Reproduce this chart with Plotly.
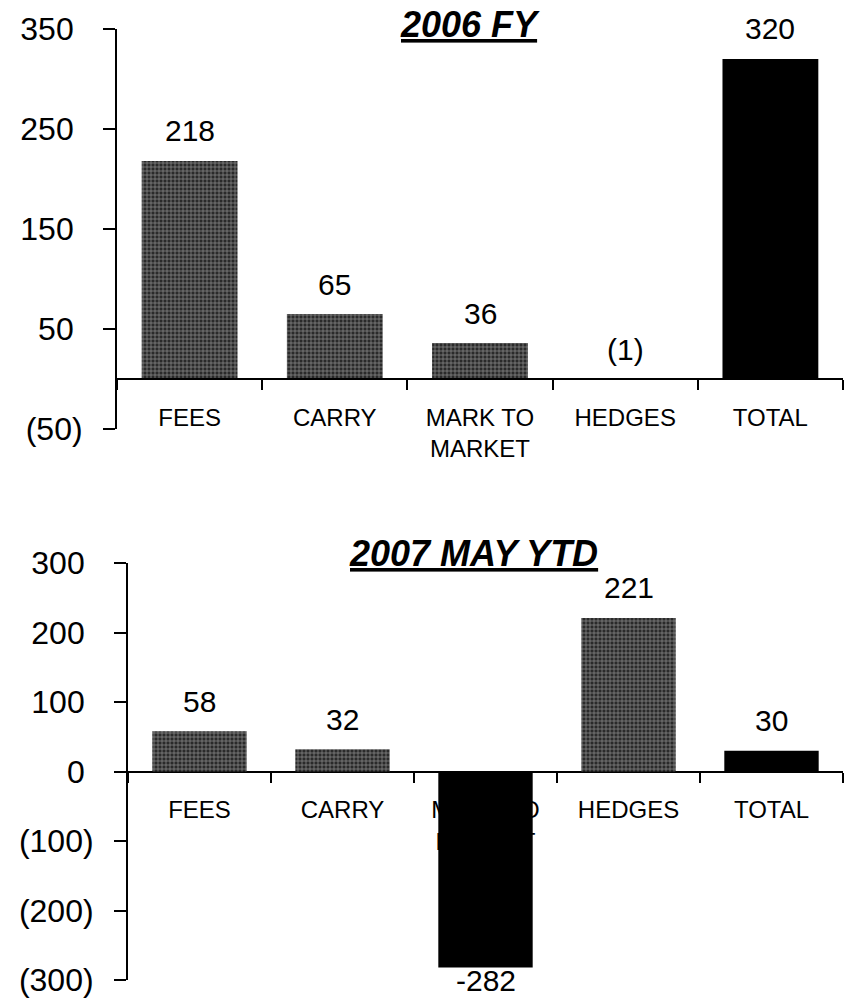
import plotly.graph_objects as go

# ---------------- data ----------------
categories = ["FEES", "CARRY", "MARK TO<br>MARKET", "HEDGES", "TOTAL"]

fy2006_values = [218, 65, 36, -1, 320]
fy2006_labels = ["218", "65", "36", "(1)", "320"]

ytd2007_values = [58, 32, -282, 221, 30]
ytd2007_labels = ["58", "32", "-282", "221", "30"]

top_tickvals = [350, 250, 150, 50, -50]
top_ticktext = ["350", "250", "150", "50", "(50)"]
bot_tickvals = [300, 200, 100, 0, -100, -200, -300]
bot_ticktext = ["300", "200", "100", "0", "(100)", "(200)", "(300)"]

top_title = "2006 FY"
bot_title = "2007 MAY YTD"

# ---------------- styles ----------------
GRAY = "#2a2a2a"
BLACK = "#000000"
top_colors = [GRAY, GRAY, GRAY, GRAY, BLACK]
bot_colors = [GRAY, GRAY, BLACK, GRAY, BLACK]
FONT = "Arial, Liberation Sans, sans-serif"

W, H = 851, 998
top_dom_y = [1 - 429 / H, 1 - 29 / H]
bot_dom_y = [1 - 980 / H, 1 - 563 / H]
top_dom_x = [117 / W, 843 / W]
bot_dom_x = [128 / W, 843 / W]
top_range = [-50, 350]
bot_range = [-300, 300]


def zero_pos(dom, rng):
    return dom[0] + (0 - rng[0]) / (rng[1] - rng[0]) * (dom[1] - dom[0])


def fmt(t):
    return t if t.startswith("(") else t + "\u00a0"


def bar(values, colors, xa, ya):
    shapes = ["+" if c == GRAY else "" for c in colors]
    return go.Bar(
        x=categories, y=values, xaxis=xa, yaxis=ya,
        marker=dict(color=colors, line=dict(width=0),
                    pattern=dict(shape=shapes, fgcolor="#a0a0a0", size=4, solidity=0.3)),
        showlegend=False, hoverinfo="skip",
    )


fig = go.Figure()
fig.add_trace(bar(fy2006_values, top_colors, "x", "y"))
fig.add_trace(bar(ytd2007_values, bot_colors, "x2", "y2"))

xcommon = dict(type="category", range=[-0.5, 4.5], showline=True, linecolor="black", linewidth=2,
               ticks="outside", tickson="boundaries", ticklen=10, tickwidth=2, tickcolor="black",
               tickfont=dict(family=FONT, size=24, color="black"), showgrid=False, zeroline=False,
               anchor="free", ticklabelstandoff=17, automargin=False)
ycommon = dict(showline=True, linecolor="black", linewidth=2, ticks="outside", ticklen=12,
               tickwidth=2, tickcolor="black", tickfont=dict(family=FONT, size=32, color="black"),
               showgrid=False, zeroline=False, tickmode="array", ticklabelstandoff=14,
               automargin=False, ticklabeloverflow="allow")

fig.update_layout(
    width=W, height=H, margin=dict(l=0, r=0, t=0, b=0, autoexpand=False),
    plot_bgcolor="white", paper_bgcolor="white", bargap=0.34,
    xaxis=dict(xcommon, domain=top_dom_x, position=zero_pos(top_dom_y, top_range)),
    yaxis=dict(ycommon, domain=top_dom_y, range=top_range, anchor="x",
               tickvals=top_tickvals, ticktext=[fmt(t) for t in top_ticktext]),
    xaxis2=dict(xcommon, domain=bot_dom_x, position=zero_pos(bot_dom_y, bot_range), layer="below traces"),
    yaxis2=dict(ycommon, domain=bot_dom_y, range=bot_range, anchor="x2",
                tickvals=bot_tickvals, ticktext=[fmt(t) for t in bot_ticktext]),
)

ann = []
for vals, labs, xr, yr in [(fy2006_values, fy2006_labels, "x", "y"),
                           (ytd2007_values, ytd2007_labels, "x2", "y2")]:
    for c, v, t in zip(categories, vals, labs):
        above = v > -10
        ann.append(dict(x=c, y=v if v > 0 else (0 if above else v), xref=xr, yref=yr, text=t,
                        showarrow=False, yanchor="middle", yshift=30 if above else -13,
                        font=dict(family=FONT, size=30, color="black")))

ann.append(dict(x=470 / W, y=1 - 24 / H, xref="paper", yref="paper", showarrow=False,
                text="<b><i><u>" + top_title + "</u></i></b>", yanchor="middle",
                font=dict(family=FONT, size=36, color="black")))
ann.append(dict(x=473 / W, y=1 - 553 / H, xref="paper", yref="paper", showarrow=False,
                text="<b><i><u>" + bot_title + "</u></i></b>", yanchor="middle",
                font=dict(family=FONT, size=36, color="black")))
fig.update_layout(annotations=ann)

fig.write_html("out.html", config={"displayModeBar": False},
               post_script="document.body.style.margin='0px';document.body.style.overflow='hidden';")
